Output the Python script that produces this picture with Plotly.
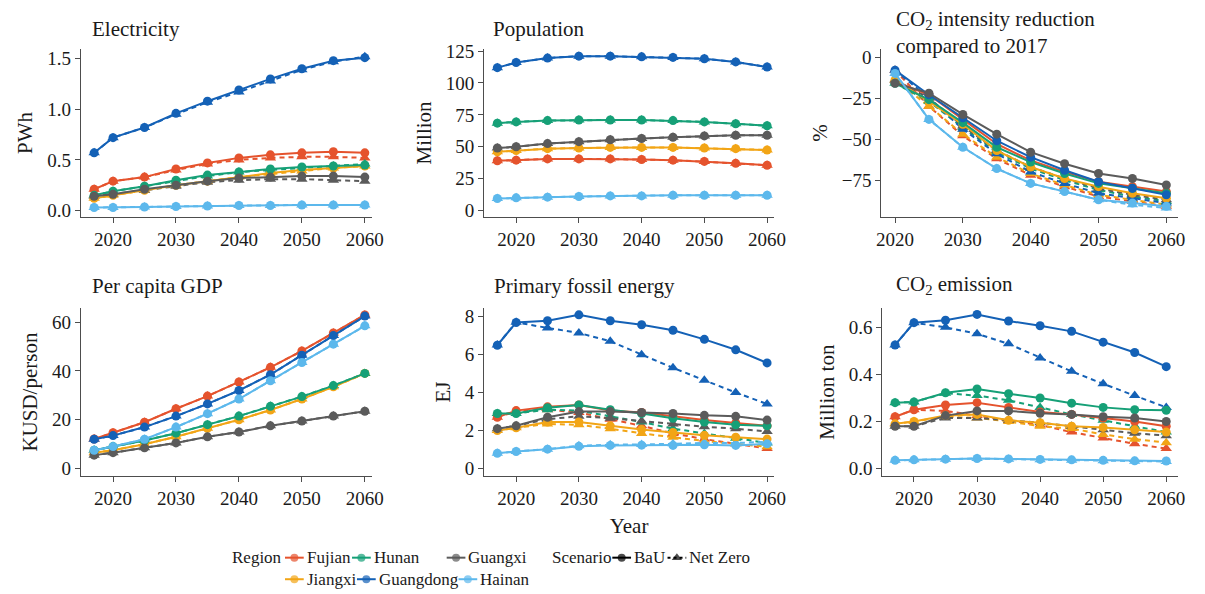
import plotly.graph_objects as go

W, H = 1205, 594
FONT = "Liberation Serif"

# ---------------- data ----------------
years = [2017, 2020, 2025, 2030, 2035, 2040, 2045, 2050, 2055, 2060]
years_intensity = [2020, 2025, 2030, 2035, 2040, 2045, 2050, 2055, 2060]
regions = ["Fujian", "Jiangxi", "Hunan", "Guangdong", "Guangxi", "Hainan"]
scenarios = ["BaU", "Net Zero"]
x_ticks = [2020, 2030, 2040, 2050, 2060]

region_colors = {
    "Fujian": "#E5532D",
    "Jiangxi": "#F2A516",
    "Hunan": "#16A077",
    "Guangdong": "#1461B6",
    "Guangxi": "#5B5B5B",
    "Hainan": "#5CB8EC",
}

electricity_bau = {
    "Fujian":    [0.21, 0.29, 0.33, 0.41, 0.47, 0.52, 0.55, 0.57, 0.58, 0.57],
    "Jiangxi":   [0.12, 0.15, 0.20, 0.25, 0.29, 0.33, 0.37, 0.40, 0.42, 0.44],
    "Hunan":     [0.15, 0.19, 0.24, 0.30, 0.35, 0.38, 0.41, 0.43, 0.44, 0.45],
    "Guangdong": [0.57, 0.72, 0.82, 0.96, 1.08, 1.19, 1.30, 1.40, 1.48, 1.51],
    "Guangxi":   [0.14, 0.16, 0.21, 0.25, 0.29, 0.32, 0.33, 0.34, 0.34, 0.33],
    "Hainan":    [0.03, 0.03, 0.035, 0.04, 0.045, 0.05, 0.05, 0.055, 0.055, 0.055],
}
electricity_nz = {
    "Fujian":    [0.21, 0.29, 0.33, 0.40, 0.46, 0.50, 0.52, 0.53, 0.53, 0.52],
    "Jiangxi":   [0.12, 0.15, 0.20, 0.25, 0.29, 0.33, 0.36, 0.39, 0.42, 0.44],
    "Hunan":     [0.15, 0.19, 0.24, 0.29, 0.34, 0.38, 0.40, 0.42, 0.44, 0.46],
    "Guangdong": [0.57, 0.72, 0.82, 0.95, 1.07, 1.17, 1.28, 1.39, 1.47, 1.52],
    "Guangxi":   [0.14, 0.16, 0.20, 0.24, 0.28, 0.30, 0.31, 0.31, 0.30, 0.29],
    "Hainan":    [0.03, 0.03, 0.035, 0.04, 0.045, 0.05, 0.05, 0.055, 0.055, 0.055],
}

population_bau = {
    "Fujian":    [39, 39.5, 40.5, 40.5, 40.5, 40, 39.5, 38.5, 37, 35.5],
    "Jiangxi":   [46, 47, 48.5, 49, 49.5, 49.5, 49.5, 49, 48.5, 47.5],
    "Hunan":     [68.5, 69.5, 70.5, 71, 71, 71, 70.5, 69.5, 68, 66.5],
    "Guangdong": [112, 116, 119.5, 121, 121, 120.5, 120, 119, 116.5, 112.5],
    "Guangxi":   [49, 50, 52.5, 54, 55.5, 56.5, 57.5, 58.5, 59, 59],
    "Hainan":    [9.5, 10, 10.5, 11, 11.5, 11.5, 12, 12, 12, 12],
}
population_nz = population_bau

intensity_bau = {
    "Fujian":    [-15, -23, -38, -53, -63, -70, -76, -79, -82],
    "Jiangxi":   [-14, -27, -41, -57, -67, -74, -79, -83, -86],
    "Hunan":     [-16, -26, -40, -55, -64, -71, -77, -80, -83],
    "Guangdong": [-8, -23, -37, -51, -61, -69, -76, -80, -84],
    "Guangxi":   [-16, -22, -35, -47, -58, -65, -71, -74, -78],
    "Hainan":    [-10, -38, -55, -68, -77, -82, -87, -89, -91],
}
intensity_nz = {
    "Fujian":    [-8, -30, -48, -62, -72, -79, -85, -88, -91],
    "Jiangxi":   [-14, -30, -47, -61, -71, -78, -84, -87, -90],
    "Hunan":     [-16, -27, -43, -58, -68, -75, -81, -85, -88],
    "Guangdong": [-8, -25, -44, -59, -70, -77, -83, -86, -89],
    "Guangxi":   [-14, -25, -42, -57, -67, -74, -80, -84, -87],
    "Hainan":    [-10, -38, -55, -68, -77, -82, -87, -90, -92],
}

gdp_bau = {
    "Fujian":    [12.1, 14.7, 19, 24.5, 29.7, 35.5, 41.5, 48.2, 55.6, 63],
    "Jiangxi":   [6.5, 7.5, 10, 13, 16.5, 20, 24, 28.5, 33.5, 39],
    "Hunan":     [7.5, 9, 11.5, 14.5, 18, 21.5, 25.5, 29.5, 34, 39],
    "Guangdong": [12, 13.5, 17, 21.5, 26.5, 32, 38.5, 46.5, 54.5, 62.5],
    "Guangxi":   [5.5, 6.5, 8.5, 10.5, 13, 15, 17.5, 19.5, 21.5, 23.5],
    "Hainan":    [7.5, 9, 12, 17, 22.5, 28.5, 36, 43.5, 51, 58.5],
}
gdp_nz = gdp_bau

fossil_bau = {
    "Fujian":    [2.7, 3.05, 3.25, 3.35, 3.05, 2.95, 2.75, 2.55, 2.4, 2.25],
    "Jiangxi":   [2.0, 2.15, 2.45, 2.45, 2.25, 2.05, 1.9, 1.75, 1.65, 1.55],
    "Hunan":     [2.9, 2.9, 3.2, 3.35, 3.1, 2.9, 2.65, 2.45, 2.3, 2.25],
    "Guangdong": [6.49, 7.69, 7.78, 8.09, 7.78, 7.57, 7.28, 6.8, 6.25, 5.56],
    "Guangxi":   [2.1, 2.25, 2.7, 3.0, 3.0, 2.95, 2.9, 2.8, 2.75, 2.55],
    "Hainan":    [0.8, 0.9, 1.02, 1.17, 1.22, 1.23, 1.22, 1.25, 1.22, 1.3],
}
fossil_nz = {
    "Fujian":    [2.7, 3.0, 3.1, 2.95, 2.6, 2.25, 1.85, 1.55, 1.3, 1.05],
    "Jiangxi":   [2.0, 2.15, 2.35, 2.3, 2.1, 1.85, 1.65, 1.45, 1.3, 1.15],
    "Hunan":     [2.9, 2.9, 3.1, 3.05, 2.75, 2.45, 2.1, 1.85, 1.6, 1.35],
    "Guangdong": [6.5, 7.7, 7.4, 7.14, 6.7, 5.99, 5.3, 4.65, 4.0, 3.4],
    "Guangxi":   [2.1, 2.25, 2.6, 2.75, 2.65, 2.5, 2.35, 2.2, 2.1, 1.95],
    "Hainan":    [0.8, 0.9, 1.02, 1.2, 1.25, 1.27, 1.3, 1.35, 1.35, 1.4],
}

emission_bau = {
    "Fujian":    [0.22, 0.25, 0.27, 0.28, 0.26, 0.24, 0.23, 0.215, 0.20, 0.18],
    "Jiangxi":   [0.19, 0.20, 0.225, 0.23, 0.205, 0.195, 0.18, 0.175, 0.165, 0.155],
    "Hunan":     [0.28, 0.283, 0.322, 0.338, 0.318, 0.30, 0.278, 0.26, 0.25, 0.248],
    "Guangdong": [0.525, 0.62, 0.63, 0.655, 0.627, 0.607, 0.583, 0.537, 0.493, 0.433],
    "Guangxi":   [0.18, 0.18, 0.225, 0.245, 0.245, 0.235, 0.23, 0.22, 0.215, 0.20],
    "Hainan":    [0.035, 0.037, 0.04, 0.043, 0.041, 0.039, 0.037, 0.035, 0.033, 0.032],
}
emission_nz = {
    "Fujian":    [0.22, 0.25, 0.245, 0.225, 0.205, 0.185, 0.155, 0.13, 0.105, 0.085],
    "Jiangxi":   [0.19, 0.20, 0.22, 0.215, 0.20, 0.18, 0.17, 0.145, 0.125, 0.11],
    "Hunan":     [0.28, 0.283, 0.32, 0.31, 0.29, 0.26, 0.23, 0.205, 0.18, 0.155],
    "Guangdong": [0.525, 0.62, 0.60, 0.573, 0.53, 0.47, 0.413, 0.36, 0.31, 0.26],
    "Guangxi":   [0.18, 0.18, 0.215, 0.215, 0.205, 0.195, 0.18, 0.165, 0.15, 0.14],
    "Hainan":    [0.035, 0.037, 0.04, 0.043, 0.04, 0.038, 0.035, 0.033, 0.031, 0.03],
}

# ---------------- layout helpers ----------------
def fx(p):
    return p / W


def fy(p):
    return 1 - p / H


panels = [
    dict(title="Electricity", ytitle="PWh", x=years, bau=electricity_bau, nz=electricity_nz,
         xdom=(77, 372), ydom=(42, 213), xr=(2014.9, 2061.1), yr=(-0.061, 1.594),
         ytick=[0, 0.5, 1.0, 1.5], yfmt=".1f", tpos=(86, 21)),
    dict(title="Population", ytitle="Million", x=years, bau=population_bau, nz=population_nz,
         xdom=(486, 780), ydom=(42, 213), xr=(2014.9, 2061.1), yr=(-4.8, 126.5),
         ytick=[0, 25, 50, 75, 100, 125], yfmt="d", tpos=(493, 21)),
    dict(title="CO<sub>2</sub> intensity reduction<br>compared to 2017", ytitle="%",
         x=years_intensity, bau=intensity_bau, nz=intensity_nz,
         xdom=(889, 1190), ydom=(42, 213), xr=(2018, 2061.75), yr=(-97.3, 4.8),
         ytick=[0, -25, -50, -75], yfmt="d", tpos=(902, 25)),
    dict(title="Per capita GDP", ytitle="KUSD/person", x=years, bau=gdp_bau, nz=gdp_nz,
         xdom=(77, 372), ydom=(306, 478), xr=(2014.9, 2061.1), yr=(-3.2, 65.9),
         ytick=[0, 20, 40, 60], yfmt="d", tpos=(86, 284)),
    dict(title="Primary fossil energy", ytitle="EJ", x=years, bau=fossil_bau, nz=fossil_nz,
         xdom=(486, 780), ydom=(306, 478), xr=(2014.9, 2061.1), yr=(-0.41, 8.46),
         ytick=[0, 2, 4, 6, 8], yfmt="d", tpos=(494, 284), xtitle="Year"),
    dict(title="CO<sub>2</sub> emission", ytitle="Million ton", x=years, bau=emission_bau, nz=emission_nz,
         xdom=(890, 1190), ydom=(306, 478), xr=(2015, 2061.9), yr=(-0.033, 0.683),
         ytick=[0, 0.2, 0.4, 0.6], yfmt=".1f", tpos=(902, 283)),
]

AXIS_COLOR = "#4d4d4d"
TEXT_COLOR = "#1a1a1a"
TICK_FONT = dict(family=FONT, size=19, color=TEXT_COLOR)
TITLE_FONT = dict(family=FONT, size=21, color=TEXT_COLOR)
LINE_W = 2
DASH = "5px,4px"

fig = go.Figure()
layout = dict(
    width=W, height=H,
    margin=dict(l=0, r=0, t=0, b=0),
    paper_bgcolor="white", plot_bgcolor="rgba(0,0,0,0)",
    showlegend=False,
    font=dict(family=FONT, size=19, color=TEXT_COLOR),
    annotations=[],
)

for i, p in enumerate(panels, start=1):
    xa = "x" if i == 1 else f"x{i}"
    ya = "y" if i == 1 else f"y{i}"
    for scen, data in (("Net Zero", p["nz"]), ("BaU", p["bau"])):
        for reg in regions:
            fig.add_trace(go.Scatter(
                x=p["x"], y=data[reg], xaxis=xa, yaxis=ya,
                mode="lines+markers",
                line=dict(color=region_colors[reg], width=LINE_W,
                          dash=("solid" if scen == "BaU" else DASH)),
                marker=dict(color=region_colors[reg],
                            symbol=("circle" if scen == "BaU" else "triangle-up"),
                            size=(9 if scen == "BaU" else 10), line=dict(width=0)),
                name=f"{reg} {scen}", showlegend=False, hoverinfo="x+y+name",
            ))
    xkey = "xaxis" if i == 1 else f"xaxis{i}"
    ykey = "yaxis" if i == 1 else f"yaxis{i}"
    xax = dict(
        domain=[fx(p["xdom"][0]), fx(p["xdom"][1])], anchor=ya,
        range=list(p["xr"]), tickvals=x_ticks, ticks="outside", ticklen=5,
        tickwidth=1.3, tickcolor=AXIS_COLOR, showline=True, linecolor=AXIS_COLOR,
        linewidth=1.3, showgrid=False, zeroline=False, tickfont=TICK_FONT,
    )
    if p.get("xtitle"):
        xax["title"] = dict(text=p["xtitle"], font=TITLE_FONT, standoff=10)
    layout[xkey] = xax
    layout[ykey] = dict(
        domain=[fy(p["ydom"][1]), fy(p["ydom"][0])], anchor=xa,
        range=list(p["yr"]), tickvals=p["ytick"], tickformat=p["yfmt"], ticks="outside",
        ticklen=5, tickwidth=1.3, tickcolor=AXIS_COLOR, showline=True,
        linecolor=AXIS_COLOR, linewidth=1.3, showgrid=False, zeroline=False,
        tickfont=TICK_FONT,
        title=dict(text=p["ytitle"], font=TITLE_FONT, standoff=8),
    )
    layout["annotations"].append(dict(
        text=p["title"], xref="paper", yref="paper",
        x=fx(p["tpos"][0]), y=fy(p["tpos"][1]), xanchor="left", yanchor="middle",
        align="left", showarrow=False, font=TITLE_FONT,
    ))

# ---------------- legend (drawn on a hidden overlay axis in pixel units) ----------------
LEG_ROW1, LEG_ROW2 = 561, 583
KEY_W = 19
legend_region_slots = [
    ("Fujian", 284, LEG_ROW1), ("Hunan", 352, LEG_ROW1), ("Guangxi", 448, LEG_ROW1),
    ("Jiangxi", 284, LEG_ROW2), ("Guangdong", 357, LEG_ROW2), ("Hainan", 460, LEG_ROW2),
]
legend_scen_slots = [("BaU", 616, LEG_ROW1), ("Net Zero", 672, LEG_ROW1)]
LEG_FONT = dict(family=FONT, size=17, color=TEXT_COLOR)

layout["xaxis7"] = dict(domain=[0, 1], range=[0, W], visible=False, fixedrange=True, anchor="y7")
layout["yaxis7"] = dict(domain=[0, 1], range=[H, 0], visible=False, fixedrange=True, anchor="x7")


def legend_key(x0, y, color, symbol, dash, size):
    fig.add_trace(go.Scatter(
        x=[x0, x0 + KEY_W / 2, x0 + KEY_W], y=[y, y, y], xaxis="x7", yaxis="y7",
        mode="lines+markers", line=dict(color=color, width=LINE_W, dash=dash),
        marker=dict(color=color, symbol=symbol, size=[0, size, 0], line=dict(width=0)),
        showlegend=False, hoverinfo="skip",
    ))


def legend_text(text, x, y):
    layout["annotations"].append(dict(
        text=text, xref="paper", yref="paper", x=fx(x), y=fy(y),
        xanchor="left", yanchor="middle", showarrow=False, font=LEG_FONT,
    ))


legend_text("Region", 228, LEG_ROW1)
for reg, kx, ky in legend_region_slots:
    legend_key(kx, ky, region_colors[reg], "circle", "solid", 8)
    legend_text(reg, kx + KEY_W + 1, ky)

legend_text("Scenario", 553, LEG_ROW1)
for scen, kx, ky in legend_scen_slots:
    if scen == "BaU":
        legend_key(kx, ky, "black", "circle", "solid", 8)
    else:
        legend_key(kx, ky, "black", "triangle-up", "3px,3px", 9)
    legend_text(scen, kx + KEY_W + 1, ky)

fig.update_layout(**layout)
fig.write_html("out.html")
